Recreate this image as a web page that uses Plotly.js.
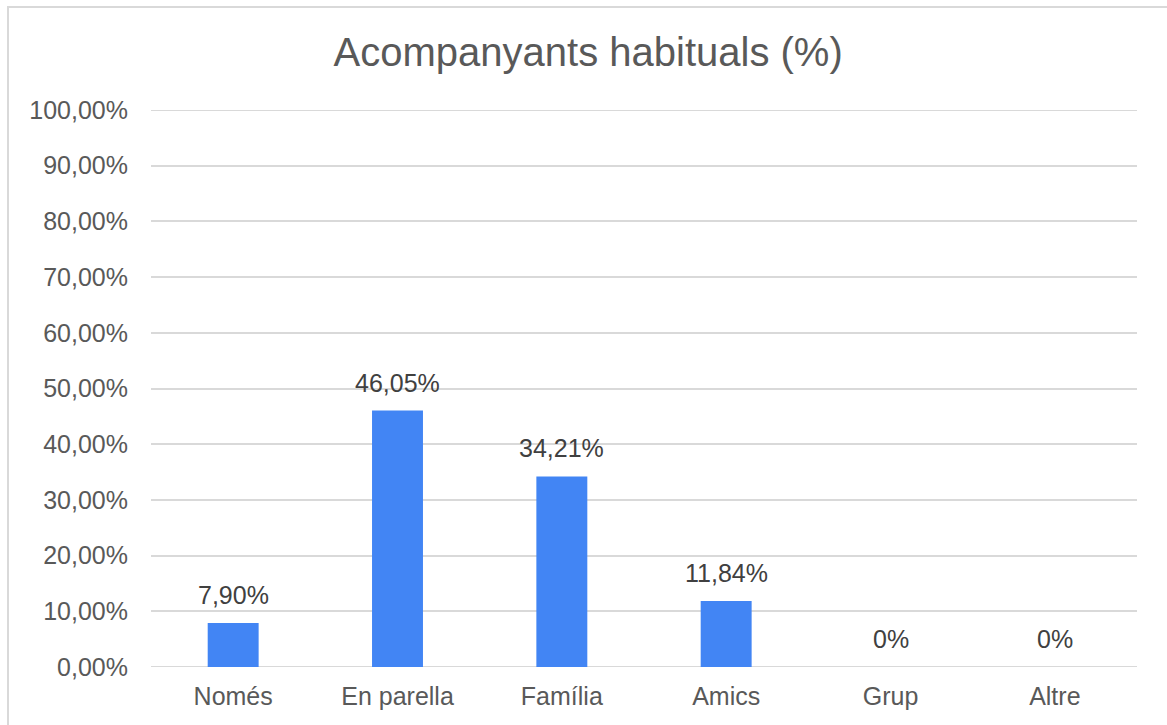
<!DOCTYPE html>
<html>
<head>
<meta charset="utf-8">
<script src="https://cdn.plot.ly/plotly-3.0.1.min.js"></script>
<style>
  html, body { margin: 0; padding: 0; background: #fff; }
  #wrap { position: relative; width: 1167px; height: 725px; overflow: hidden; }
  #frame { position: absolute; left: 7px; top: 6px; width: 1200px; height: 800px;
           border-left: 2px solid #d9d9d9; border-top: 2px solid #d9d9d9; box-sizing: border-box; pointer-events: none; }
  #chart { position: absolute; left: 0; top: 0; width: 1167px; height: 725px; }
</style>
</head>
<body>
<div id="wrap">
  <div id="chart"></div>
  <div id="frame"></div>
</div>
<script>
const categories = ["Només", "En parella", "Família", "Amics", "Grup", "Altre"];
const values = [7.90, 46.05, 34.21, 11.84, 0, 0];
const valueLabels = ["7,90%", "46,05%", "34,21%", "11,84%", "0%", "0%"];
const yTickVals = [0, 10, 20, 30, 40, 50, 60, 70, 80, 90, 100];
const yTickText = ["0,00%", "10,00%", "20,00%", "30,00%", "40,00%", "50,00%", "60,00%", "70,00%", "80,00%", "90,00%", "100,00%"];

const FONT = "Liberation Sans, Arial, Helvetica, sans-serif";

const trace = {
  type: "bar",
  x: categories,
  y: values,
  marker: { color: "#4285f4" },
  hoverinfo: "none"
};

const annotations = categories.map((c, i) => ({
  x: c, y: values[i], xref: "x", yref: "y",
  text: valueLabels[i], showarrow: false,
  yanchor: "bottom", yshift: 12,
  font: { family: FONT, size: 25, color: "#404040" }
}));

const layout = {
  width: 1167, height: 725,
  margin: { l: 151, r: 30, t: 110, b: 58 },
  paper_bgcolor: "rgba(0,0,0,0)",
  plot_bgcolor: "#ffffff",
  showlegend: false,
  bargap: 0.69,
  title: {
    text: "Acompanyants habituals (%)",
    font: { family: FONT, size: 40, color: "#595959" },
    xref: "container", x: 0.504, xanchor: "center",
    yref: "container", y: 1 - 38 / 725, yanchor: "top"
  },
  xaxis: {
    type: "category",
    showgrid: false, zeroline: false, showline: false,
    ticks: "", ticklabelstandoff: 12,
    tickfont: { family: FONT, size: 25, color: "#595959" }
  },
  yaxis: {
    range: [0, 100], fixedrange: true,
    tickvals: yTickVals, ticktext: yTickText,
    showgrid: true, gridcolor: "#d9d9d9", gridwidth: 2,
    zeroline: false, showline: false,
    ticks: "", ticklabelstandoff: 22,
    tickfont: { family: FONT, size: 25, color: "#595959" }
  },
  shapes: [
    { type: "line", xref: "paper", yref: "y", x0: 0, x1: 1, y0: 0, y1: 0,
      line: { color: "#d9d9d9", width: 2 }, layer: "below" },
    { type: "line", xref: "paper", yref: "y", x0: 0, x1: 1, y0: 100, y1: 100,
      line: { color: "#d9d9d9", width: 2 }, layer: "below" }
  ],
  annotations: annotations
};

Plotly.newPlot("chart", [trace], layout, { staticPlot: true, displayModeBar: false });
</script>
</body>
</html>
